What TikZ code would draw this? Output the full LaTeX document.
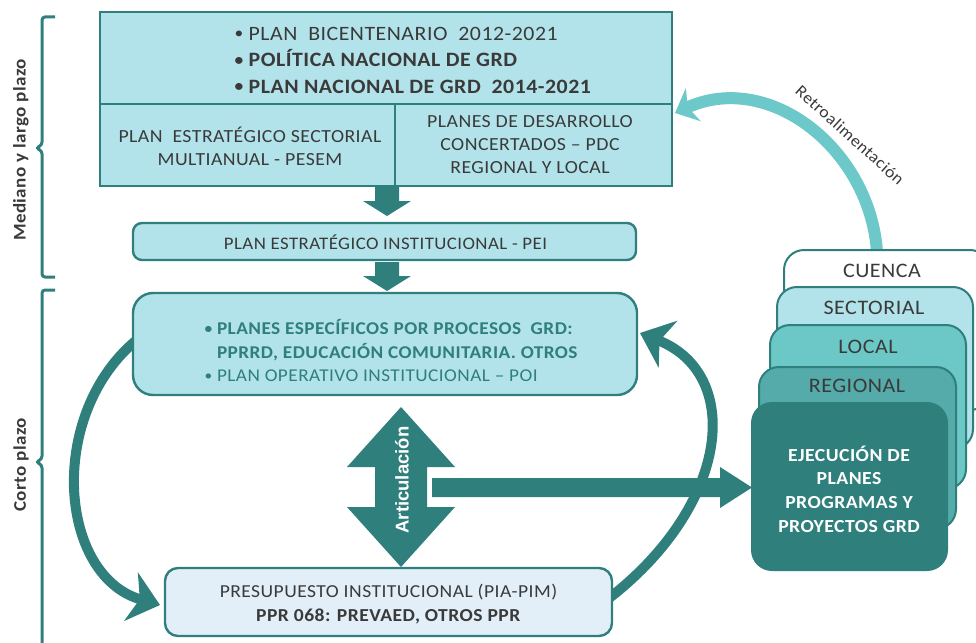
\documentclass[tikz,border=0pt]{standalone}
\usepackage{fontspec}
\usepackage{graphicx}
\setmainfont{Carlito}[LetterSpace=2.5, FakeStretch=1.07]
\newfontfamily\arialfont{Liberation Sans}
\usetikzlibrary{arrows.meta}
\definecolor{teal1}{HTML}{2F7F7C}
\definecolor{cyanfill}{HTML}{B3E3EA}
\definecolor{palefill}{HTML}{E2EFF8}
\definecolor{retro}{HTML}{6DC8CA}
\definecolor{localc}{HTML}{6CC7C7}
\definecolor{regionalc}{HTML}{55AAAA}
\definecolor{txt}{HTML}{3A3A3A}
\newcommand\bul{\raisebox{0.07em}{\scalebox{0.8}{•}}}
\tikzset{
  box/.style={draw=teal1, line width=2.4pt, fill=cyanfill, inner sep=0pt},
  stackbox/.style={draw=teal1, line width=2pt, rounded corners=20pt, inner sep=0pt},
  brace/.style={draw=teal1, line width=3pt, rounded corners=3pt},
  sidelabel/.style={rotate=90, text=txt, font=\bfseries\fontsize{17.8}{22}\selectfont},
  bodytext/.style={text=txt, font=\fontsize{20.4}{26.5}\selectfont},
  celltext/.style={text=txt, align=center, font=\fontsize{18.5}{23}\selectfont},
  stacktext/.style={text=txt, font=\fontsize{20.6}{24}\selectfont},
  blockarrow/.style={fill=teal1, draw=none},
  curvearrow/.style={draw=teal1, line width=10pt, -{Stealth[length=30pt, width=50pt, inset=9pt]}},
}
\begin{document}
\begin{tikzpicture}[x=1pt, y=-1pt]
\useasboundingbox (0,0) rectangle (976,642);

% braces
\draw[brace] (55,17) -- (42,17) -- (42,145) -- (36,148) -- (42,151) -- (42,277) -- (55,277);
\draw[brace] (55,290) -- (42,290) -- (42,459) -- (36,462) -- (42,465) -- (42,660);
\node[sidelabel] (lbl1) at (21,150) {Mediano y largo plazo};
\node[sidelabel] (lbl2) at (21,465) {Corto plazo};

% curved arrows (behind boxes)
\coordinate (lstart) at (150,330);
\coordinate (ltip) at (160,605);
\coordinate (rstart) at (600,605);
\coordinate (rtip) at (640,333);
\draw[curvearrow] (lstart) .. controls (45,400) and (55,575) .. (ltip);
\draw[curvearrow] (rstart) .. controls (730,510) and (745,375) .. (rtip);

% top box
\node[box, minimum width=572, minimum height=92] (topA) at (386,58) {};
\node[box, minimum width=295, minimum height=82] (topL) at (247.5,145) {};
\node[box, minimum width=277, minimum height=82] (topR) at (533.5,145) {};
\node[bodytext, anchor=west, align=left] (topT) at (231,60)
  {\bul\ PLAN~~BICENTENARIO~~2012-2021\\ \textbf{\bul\ POLÍTICA NACIONAL DE GRD}\\ \textbf{\bul\ PLAN NACIONAL DE GRD~~2014-2021}};
\node[celltext] (topLT) at (250,146) {PLAN~~ESTRATÉGICO SECTORIAL\\MULTIANUAL - PESEM};
\node[celltext] (topRT) at (530,145) {PLANES DE DESARROLLO\\CONCERTADOS – PDC\\REGIONAL Y LOCAL};

% block arrows
\draw[blockarrow] (375,187) -- (399,187) -- (399,201) -- (411,201) -- (387,216) -- (363,201) -- (375,201) -- cycle;
\draw[blockarrow] (375,262) -- (399,262) -- (399,276) -- (411,276) -- (387,291) -- (363,276) -- (375,276) -- cycle;

% PEI
\node[box, rounded corners=9pt, minimum width=503, minimum height=37] (pei) at (384.5,241.5) {};
\node[celltext, font=\fontsize{17.6}{21}\selectfont] (peiT) at (385.5,242) {PLAN ESTRATÉGICO INSTITUCIONAL - PEI};

% middle box
\node[box, rounded corners=20pt, minimum width=504, minimum height=102] (mid) at (385,344) {};
\node[anchor=west, align=left, text=teal1, font=\fontsize{18}{23.5}\selectfont] (midT) at (201,351)
  {\textbf{\bul\ PLANES ESPECÍFICOS POR PROCESOS~~GRD:}\\ \textbf{\phantom{\bul\ }PPRRD, EDUCACIÓN COMUNITARIA. OTROS}\\ \bul\ PLAN OPERATIVO INSTITUCIONAL – POI};

% bottom box
\node[box, fill=palefill, rounded corners=13pt, minimum width=447, minimum height=68] (bot) at (388.5,602) {};
\node[celltext, font=\fontsize{18.3}{24}\selectfont] (botT) at (388.5,604) {PRESUPUESTO INSTITUCIONAL (PIA-PIM)\\ \textbf{PPR 068: PREVAED, OTROS PPR}};

% double arrow
\draw[blockarrow] (401,407) -- (455,467) -- (427,467) -- (427,507) -- (455,507) -- (401,567) -- (347,507) -- (375,507) -- (375,467) -- (347,467) -- cycle;
\node[rotate=90, text=white, font=\arialfont\bfseries\fontsize{18.5}{20}\selectfont] (art) at (402,480) {Articulación};

% horizontal arrow
\draw[blockarrow] (432,478) -- (720,478) -- (720,467) -- (752,487.5) -- (720,508) -- (720,497) -- (432,497) -- cycle;

% retro arrow
\coordinate (retstart) at (877,252);
\coordinate (rettip) at (675,113);
\draw[draw=retro, line width=12pt, -{Stealth[length=20pt, width=36pt, inset=6pt]}] (retstart) .. controls (870,150) and (770,70) .. (rettip);
\node[rotate=-42, text=txt, font=\fontsize{16.6}{20}\selectfont] (retT) at (850,135) {Retroalimentación};

% stack
\node[stackbox, fill=white, minimum width=206, minimum height=160] (cuenca) at (887,330) {};
\node[stacktext] (cuencaT) at (882,271) {CUENCA};
\node[stackbox, fill=cyanfill, minimum width=196, minimum height=162] (sect) at (875,368) {};
\node[stacktext] (sectT) at (874,308) {SECTORIAL};
\node[stackbox, fill=localc, minimum width=196, minimum height=164] (local) at (868,407) {};
\node[stacktext] (localT) at (868,347) {LOCAL};
\node[stackbox, fill=regionalc, minimum width=197, minimum height=162] (reg) at (857.5,448) {};
\node[stacktext] (regT) at (857,386) {REGIONAL};
\node[stackbox, fill=teal1, minimum width=195, minimum height=167] (eje) at (849.5,486.5) {};
\node[align=center, text=white, font=\bfseries\fontsize{18.4}{23.7}\selectfont] (ejeT) at (849,489)
  {EJECUCIÓN DE\\PLANES\\PROGRAMAS Y\\PROYECTOS GRD};
\end{tikzpicture}
\end{document}
